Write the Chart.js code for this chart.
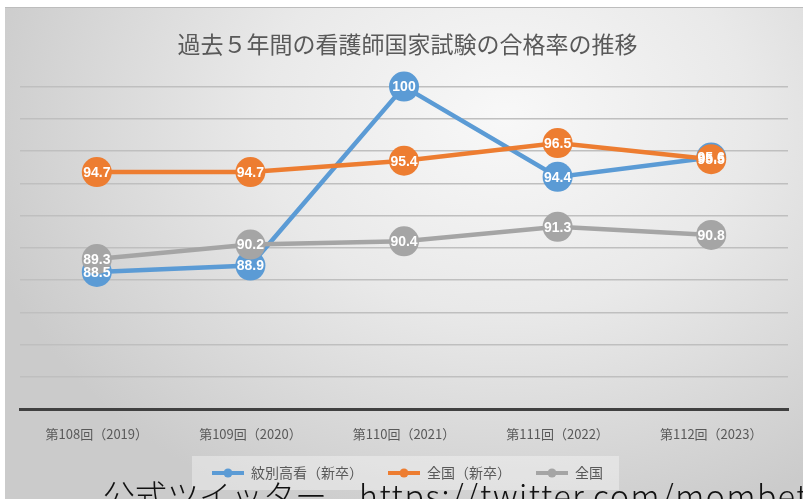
<!DOCTYPE html>
<html lang="ja">
<head>
<meta charset="UTF-8">
<title>過去5年間の看護師国家試験の合格率の推移</title>
<script src="https://cdn.jsdelivr.net/npm/chart.js"></script>
<style>
    html, body { margin: 0; padding: 0; background: #ffffff; overflow: hidden; }
    #wrap { position: relative; width: 803px; height: 499px; }
    #frame {
        position: absolute; left: 5px; top: 7px; width: 798px; height: 492px;
        background: radial-gradient(ellipse 540px 430px at 500px 110px, #f8f8f8 0%, #e9e9e9 45%, #d6d6d6 80%, #cbcbcb 100%);
        border-top: 1px solid #bdbdbd;
    }
    #chart { position: absolute; left: 0; top: 0; }
    #overlay {
        position: absolute; left: 103px; top: 478px; white-space: nowrap;
        font-family: "Noto Sans CJK JP", "Noto Sans", sans-serif; font-weight: 300;
        font-size: 32px; line-height: 1; color: #111;
    }
    #overlay span { letter-spacing: 1.6px; }
</style>
</head>
<body>
<div id="wrap">
    <div id="frame"></div>
    <canvas id="chart" width="803" height="499"></canvas>
    <div id="overlay">公式ツイッター　<span>https://twitter.com/mombet</span></div>
</div>
<script>
    const labels = ['第108回（2019）', '第109回（2020）', '第110回（2021）', '第111回（2022）', '第112回（2023）'];
    const monbetsu = [88.5, 88.9, 100, 94.4, 95.6];
    const zenkokuShinsotsu = [94.7, 94.7, 95.4, 96.5, 95.5];
    const zenkoku = [89.3, 90.2, 90.4, 91.3, 90.8];
    const seriesNames = ['紋別高看（新卒）', '全国（新卒）', '全国'];
    const colors = ['#5B9BD5', '#ED7D31', '#A5A5A5'];

    // small line-with-dot icon for the legend
    function legendIcon(color) {
        const c = document.createElement('canvas');
        c.width = 32; c.height = 10;
        const g = c.getContext('2d');
        g.strokeStyle = color; g.lineWidth = 4;
        g.beginPath(); g.moveTo(0, 5); g.lineTo(32, 5); g.stroke();
        g.fillStyle = color;
        g.beginPath(); g.arc(16, 5, 4.5, 0, Math.PI * 2); g.fill();
        return c;
    }

    const valueLabels = {
        id: 'valueLabels',
        afterDatasetsDraw(chart) {
            const ctx = chart.ctx;
            ctx.save();
            ctx.font = 'bold 14px "Liberation Sans", Arial, sans-serif';
            ctx.fillStyle = '#ffffff';
            ctx.textAlign = 'center';
            ctx.textBaseline = 'middle';
            chart.data.datasets.forEach((ds, i) => {
                chart.getDatasetMeta(i).data.forEach((pt, j) => {
                    ctx.fillText(String(ds.data[j]), pt.x, pt.y + 1);
                });
            });
            ctx.restore();
        }
    };

    const legendBack = {
        id: 'legendBack',
        beforeDraw(chart) {
            const boxes = chart.legend.legendHitBoxes;
            if (!boxes || !boxes.length) return;
            const ctx = chart.ctx;
            const first = boxes[0], last = boxes[boxes.length - 1];
            ctx.save();
            ctx.fillStyle = 'rgba(255,255,255,0.35)';
            ctx.fillRect(first.left - 20, first.top - 10, last.left + last.width - first.left + 36, 34);
            ctx.restore();
        }
    };

    function makeSet(name, data, color, order) {
        return {
            label: name,
            data: data,
            borderColor: color,
            backgroundColor: color,
            borderWidth: 4.5,
            pointRadius: 15,
            pointHoverRadius: 15,
            pointBorderWidth: 0,
            pointBackgroundColor: color,
            order: order,
            clip: false
        };
    }

    new Chart(document.getElementById('chart'), {
        type: 'line',
        data: {
            labels: labels,
            datasets: [
                makeSet(seriesNames[0], monbetsu, colors[0], 3),
                makeSet(seriesNames[1], zenkokuShinsotsu, colors[1], 2),
                makeSet(seriesNames[2], zenkoku, colors[2], 1)
            ]
        },
        options: {
            responsive: false,
            animation: false,
            layout: { padding: { left: 20, right: 8, top: 0, bottom: 9 } },
            plugins: {
                title: {
                    display: true,
                    text: '過去５年間の看護師国家試験の合格率の推移',
                    color: '#595959',
                    font: { family: '"Noto Sans CJK JP", sans-serif', size: 23, weight: 'normal' },
                    padding: { top: 30, bottom: 29 }
                },
                legend: {
                    position: 'bottom',
                    labels: {
                        color: '#595959',
                        font: { family: '"Noto Sans CJK JP", sans-serif', size: 14 },
                        usePointStyle: true,
                        pointStyleWidth: 32,
                        boxHeight: 10,
                        padding: 25,
                        generateLabels(chart) {
                            return chart.data.datasets.map((ds, i) => ({
                                text: ds.label,
                                pointStyle: legendIcon(colors[i]),
                                fillStyle: colors[i],
                                strokeStyle: colors[i],
                                lineWidth: 0,
                                fontColor: '#595959',
                                datasetIndex: i
                            }));
                        }
                    }
                },
                tooltip: { enabled: false }
            },
            scales: {
                x: {
                    offset: true,
                    grid: { display: false },
                    border: { display: true, color: '#404040', width: 3 },
                    ticks: {
                        color: '#595959',
                        padding: 9,
                        font: { family: '"Noto Sans CJK JP", sans-serif', size: 13 }
                    },
                    afterFit(s) { s.height = 32; }
                },
                y: {
                    min: 80,
                    max: 100,
                    ticks: { display: false, stepSize: 2 },
                    border: { display: false },
                    grid: { color: '#bfbfbf', lineWidth: 1.5, drawTicks: false }
                }
            }
        },
        plugins: [legendBack, valueLabels]
    });
</script>
</body>
</html>
